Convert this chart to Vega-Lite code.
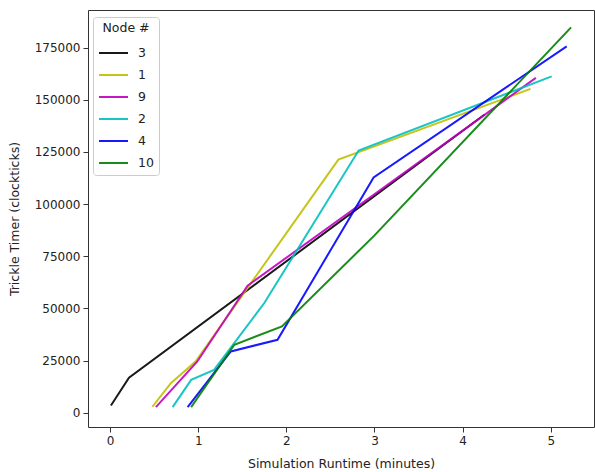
{
  "$schema": "https://vega.github.io/schema/vega-lite/v6.json",
  "width": 506,
  "height": 417,
  "autosize": "none",
  "padding": {"left": 88, "top": 10, "right": 1, "bottom": 45},
  "background": "white",
  "config": {
    "view": {"stroke": "#333333", "strokeWidth": 1},
    "font": "DejaVu Sans"
  },
  "data": {
    "values": [
      {"node": "3", "t": 0.01, "timer": 3500},
      {"node": "3", "t": 0.06, "timer": 6700},
      {"node": "3", "t": 0.215, "timer": 16800},
      {"node": "3", "t": 4.25, "timer": 142900},
      {"node": "1", "t": 0.48, "timer": 2900},
      {"node": "1", "t": 0.69, "timer": 14200},
      {"node": "1", "t": 0.97, "timer": 24600},
      {"node": "1", "t": 2.59, "timer": 121300},
      {"node": "1", "t": 4.77, "timer": 155200},
      {"node": "9", "t": 0.52, "timer": 2700},
      {"node": "9", "t": 0.99, "timer": 24600},
      {"node": "9", "t": 1.56, "timer": 60900},
      {"node": "9", "t": 4.83, "timer": 160500},
      {"node": "2", "t": 0.71, "timer": 2700},
      {"node": "2", "t": 0.92, "timer": 15800},
      {"node": "2", "t": 1.18, "timer": 20600},
      {"node": "2", "t": 1.75, "timer": 52600},
      {"node": "2", "t": 2.82, "timer": 125700},
      {"node": "2", "t": 5.01, "timer": 161200},
      {"node": "4", "t": 0.88, "timer": 2700},
      {"node": "4", "t": 1.37, "timer": 29400},
      {"node": "4", "t": 1.90, "timer": 35000},
      {"node": "4", "t": 2.99, "timer": 112800},
      {"node": "4", "t": 5.18, "timer": 175600},
      {"node": "10", "t": 0.92, "timer": 2700},
      {"node": "10", "t": 1.41, "timer": 32600},
      {"node": "10", "t": 1.95, "timer": 41400},
      {"node": "10", "t": 3.00, "timer": 85000},
      {"node": "10", "t": 5.23, "timer": 184700}
    ]
  },
  "mark": {"type": "line", "strokeWidth": 2, "opacity": 0.9},
  "encoding": {
    "x": {
      "field": "t",
      "type": "quantitative",
      "scale": {"domain": [-0.25, 5.49], "nice": false, "zero": false},
      "axis": {
        "title": "Simulation Runtime (minutes)",
        "values": [0, 1, 2, 3, 4, 5],
        "grid": false,
        "domain": false,
        "tickColor": "#333333",
        "tickSize": 5,
        "labelFontSize": 12,
        "labelColor": "#222222",
        "labelPadding": 3,
        "titleFontSize": 12.5,
        "titleFontWeight": "normal",
        "titleColor": "#222222",
        "titlePadding": 11
      }
    },
    "y": {
      "field": "timer",
      "type": "quantitative",
      "scale": {"domain": [-6800, 193000], "nice": false, "zero": false},
      "axis": {
        "title": "Trickle Timer (clockticks)",
        "values": [0, 25000, 50000, 75000, 100000, 125000, 150000, 175000],
        "format": "d",
        "grid": false,
        "domain": false,
        "tickColor": "#333333",
        "tickSize": 5,
        "labelFontSize": 12,
        "labelColor": "#222222",
        "labelPadding": 3,
        "titleFontSize": 12.5,
        "titleFontWeight": "normal",
        "titleColor": "#222222",
        "titlePadding": 13
      }
    },
    "color": {
      "field": "node",
      "type": "nominal",
      "sort": ["3", "1", "9", "2", "4", "10"],
      "scale": {
        "domain": ["3", "1", "9", "2", "4", "10"],
        "range": ["#000000", "#bfbf00", "#bf00bf", "#00bfbf", "#0000ff", "#008000"]
      },
      "legend": {
        "title": "Node #",
        "orient": "none",
        "legendX": 5,
        "legendY": 7,
        "padding": 5,
        "fillColor": "white",
        "strokeColor": "#cccccc",
        "cornerRadius": 3,
        "symbolType": "stroke",
        "symbolSize": 841,
        "symbolStrokeWidth": 2,
        "labelFontSize": 12.5,
        "labelColor": "#222222",
        "labelOffset": 9,
        "rowPadding": -9,
        "titleFontSize": 12.5,
        "titleFontWeight": "normal",
        "titleColor": "#222222",
        "titleAnchor": "middle",
        "titleAlign": "center",
        "titlePadding": 3
      }
    }
  }
}
